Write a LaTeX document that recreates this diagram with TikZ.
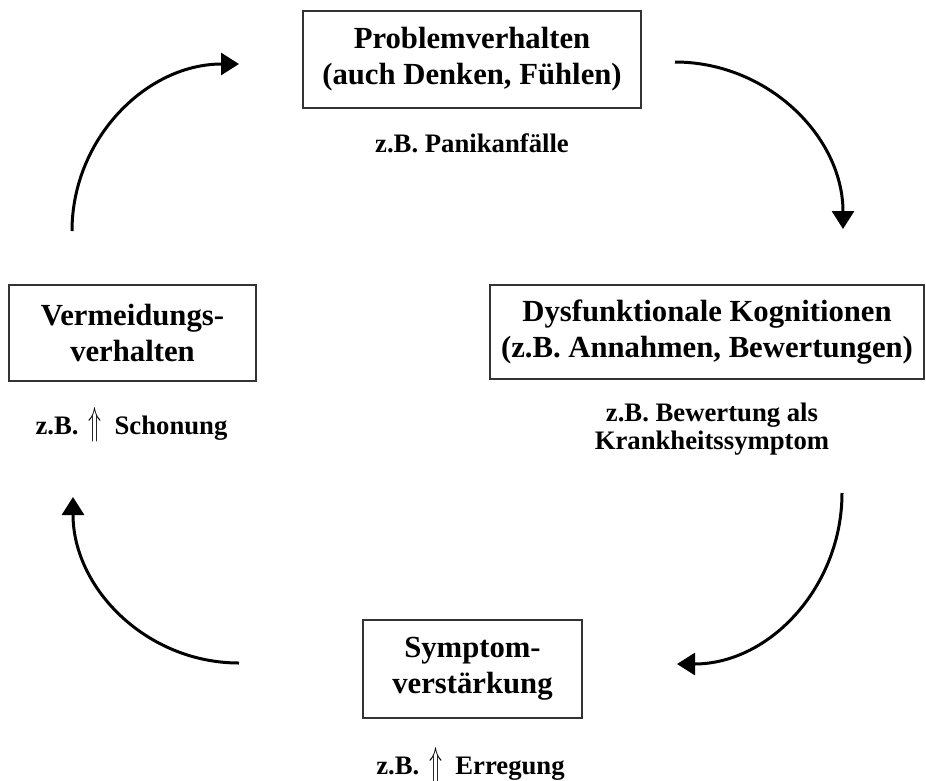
\documentclass[tikz,border=0pt]{standalone}
\usepackage{fontspec}
\setmainfont{Liberation Serif}
\usetikzlibrary{arrows.meta}
\newcommand{\bigup}{\hspace{10pt}\resizebox*{13pt}{35pt}{$\Uparrow$}\hspace{13pt}}
\begin{document}
\begin{tikzpicture}[x=1pt,y=1pt,
  boxnode/.style={draw=black!80,line width=1.1pt,rectangle,align=center,inner sep=0pt,
    font=\fontsize{30.7}{36}\selectfont\bfseries},
  lbl/.style={align=center,inner sep=0pt,font=\fontsize{26.7}{28}\selectfont\bfseries},
  cyc/.style={line width=3pt,-{Triangle[length=18pt,width=22pt]}}]
\useasboundingbox (0,0) rectangle (926,-780);
\node[boxnode,minimum width=338pt,minimum height=97pt] (prob) at (472,-59.5) {Problemverhalten\\(auch Denken, Fühlen)};
\node[boxnode,minimum width=247pt,minimum height=96pt] (verm) at (132.5,-333) {Vermeidungs-\\verhalten};
\node[boxnode,minimum width=434pt,minimum height=94pt] (dysf) at (707,-332) {Dysfunktionale Kognitionen\\(z.B. Annahmen, Bewertungen)};
\node[boxnode,minimum width=219pt,minimum height=98pt] (symp) at (472.5,-669) {Symptom-\\verstärkung};

\node[lbl] (lprob) at (472,-143) {z.B. Panikanfälle};
\node[lbl] (ldysf) at (712,-429) {z.B. Bewertung als\\Krankheitssymptom};
\node[lbl] (lverm) at (131.5,-425) {z.B.\bigup Schonung};
\node[lbl] (lsymp) at (470.5,-765) {z.B.\bigup Erregung};

\coordinate (a1s) at (72,-231);  \coordinate (a1e) at (239,-64);
\coordinate (a2s) at (675,-62);  \coordinate (a2e) at (843,-229);
\coordinate (a3s) at (842,-493); \coordinate (a3e) at (677,-664);
\coordinate (a4s) at (239,-663); \coordinate (a4e) at (73,-497);
\draw[cyc] (a1s) to[out=90,in=180] (a1e);
\draw[cyc] (a2s) to[out=0,in=90] (a2e);
\draw[cyc] (a3s) to[out=-90,in=0] (a3e);
\draw[cyc] (a4s) to[out=180,in=-90] (a4e);
\end{tikzpicture}
\end{document}
